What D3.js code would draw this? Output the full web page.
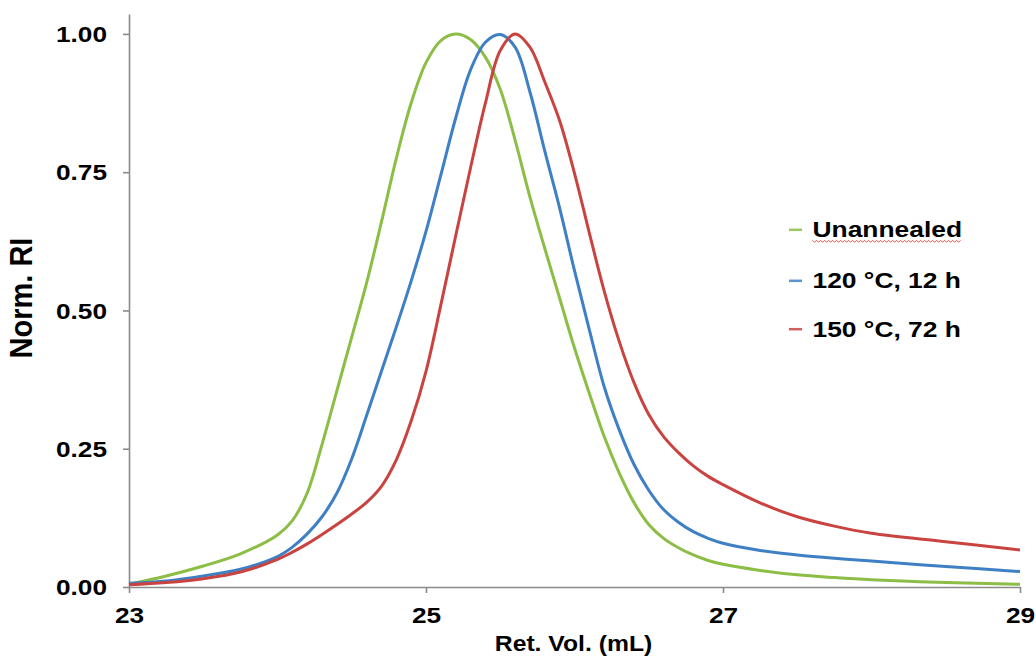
<!DOCTYPE html>
<html>
<head>
<meta charset="utf-8">
<script src="https://cdn.jsdelivr.net/npm/d3@7"></script>
<style>
  html, body { margin: 0; padding: 0; background: #fff; }
  svg { display: block; }
  text { font-family: "Liberation Sans", Arial, sans-serif; font-weight: bold; fill: #000; }
</style>
</head>
<body>
<svg id="chart" width="1036" height="659"></svg>
<script>
// Retention volume (mL) sampling grid shared by all traces
const retVol = [23.0, 23.25, 23.5, 23.75, 24.0, 24.1, 24.2, 24.3, 24.4, 24.5, 24.6, 24.7, 24.8, 24.9,
  25.0, 25.1, 25.2, 25.3, 25.4, 25.5, 25.6, 25.7, 25.8, 25.9, 26.0, 26.1, 26.2, 26.3, 26.4, 26.5,
  26.6, 26.7, 26.8, 26.9, 27.0, 27.25, 27.5, 27.75, 28.0, 28.5, 29.0];

// Normalised RI response for each sample
const unannealed = [0.005, 0.02, 0.038, 0.06, 0.094, 0.12, 0.17, 0.258, 0.355, 0.452, 0.55, 0.66, 0.775, 0.875,
  0.948, 0.988, 1.0, 0.99, 0.958, 0.9, 0.808, 0.705, 0.612, 0.522, 0.432, 0.35, 0.272, 0.207, 0.153, 0.113,
  0.088, 0.071, 0.058, 0.048, 0.041, 0.03, 0.022, 0.017, 0.013, 0.008, 0.005];

const annealed120 = [0.007, 0.011, 0.02, 0.032, 0.055, 0.072, 0.096, 0.127, 0.17, 0.232, 0.31, 0.39, 0.47, 0.553,
  0.643, 0.745, 0.848, 0.935, 0.985, 0.999, 0.976, 0.895, 0.788, 0.685, 0.572, 0.465, 0.362, 0.285, 0.222, 0.175,
  0.14, 0.117, 0.1, 0.088, 0.079, 0.066, 0.058, 0.052, 0.047, 0.037, 0.028];

const annealed150 = [0.004, 0.008, 0.015, 0.027, 0.05, 0.063, 0.078, 0.095, 0.113, 0.132, 0.153, 0.182, 0.23, 0.3,
  0.39, 0.51, 0.635, 0.758, 0.875, 0.97, 1.0, 0.976, 0.913, 0.843, 0.748, 0.64, 0.535, 0.445, 0.37, 0.312,
  0.272, 0.243, 0.219, 0.2, 0.185, 0.152, 0.127, 0.11, 0.097, 0.082, 0.067];

const seriesNames = ["Unannealed", "120 °C, 12 h", "150 °C, 72 h"];
const seriesValues = [unannealed, annealed120, annealed150];
const seriesColors = ["#8cbd45", "#3f7fc4", "#c94441"];

const xTicks = [23, 25, 27, 29];
const yTicks = [0, 0.25, 0.5, 0.75, 1.0];

const svg = d3.select("#chart");
const tickStretch = 1.22;    // wide-set lettering for tick labels
const legendStretch = 1.2;
const titleStretch = 1.15;

const x = d3.scaleLinear().domain([23, 29]).range([129, 1020]);
const y = d3.scaleLinear().domain([0, 1.036]).range([587, 14]);

// Axes
const axisColor = "#8a8a8a";

const gx = svg.append("g")
  .attr("transform", `translate(0,${y(0)})`)
  .call(d3.axisBottom(x).tickValues(xTicks).tickFormat(d3.format("d")).tickSize(6).tickSizeOuter(0));

const gy = svg.append("g")
  .attr("transform", `translate(${x(23)},0)`)
  .call(d3.axisLeft(y).tickValues(yTicks).tickFormat(d3.format(".2f")).tickSize(6).tickSizeOuter(0));

[gx, gy].forEach(g => {
  g.select(".domain").attr("stroke", axisColor).attr("stroke-width", 1.6);
  g.selectAll(".tick line").attr("stroke", axisColor).attr("stroke-width", 1.6);
  g.selectAll(".tick text")
    .attr("fill", "#000")
    .style("font-size", "21.5px")
    .style("font-family", "'Liberation Sans', Arial, sans-serif")
    .style("font-weight", "bold");
});

gx.selectAll(".tick text")
  .attr("y", 21)
  .attr("transform", `scale(${tickStretch},1)`);

gy.selectAll(".tick text")
  .attr("x", -22 / tickStretch)
  .attr("dy", "0.36em")
  .attr("transform", `scale(${tickStretch},1)`);

// Traces
const line = d3.line()
  .x((d, i) => x(retVol[i]))
  .y(d => y(d))
  .curve(d3.curveCatmullRom.alpha(0.5));

seriesValues.forEach((vals, k) => {
  svg.append("path")
    .datum(vals)
    .attr("fill", "none")
    .attr("stroke", seriesColors[k])
    .attr("stroke-width", 3)
    .attr("stroke-linejoin", "round")
    .attr("d", line);
});

// Axis titles
svg.append("text")
  .attr("transform", `translate(573.5,651) scale(${titleStretch},1)`)
  .attr("text-anchor", "middle")
  .style("font-size", "21.5px")
  .text("Ret. Vol. (mL)");

svg.append("text")
  .attr("transform", `translate(32,298) scale(1.1,1) rotate(-90)`)
  .attr("text-anchor", "middle")
  .style("font-size", "29px")
  .text("Norm. RI");

// Legend
const legendBaselines = [237.3, 288.3, 336.7];
const legend = svg.append("g");
seriesNames.forEach((name, k) => {
  const base = legendBaselines[k];
  legend.append("line")
    .attr("x1", 789).attr("x2", 802)
    .attr("y1", base - 7.5).attr("y2", base - 7.5)
    .attr("stroke", seriesColors[k])
    .attr("stroke-opacity", 0.85)
    .attr("stroke-width", 2.5);
  const t = legend.append("text")
    .attr("transform", `translate(812.5,${base}) scale(${legendStretch},1)`)
    .style("font-size", "22px")
    .text(name);
  if (k === 0) {
    // red wavy underline beneath the first entry
    const w = t.node().getComputedTextLength() * legendStretch;
    const pts = [];
    for (let px = 0, i = 0; px <= w; px += 2, i++) {
      pts.push([812.5 + px, base + 4 + (i % 2 === 0 ? -1 : 1)]);
    }
    legend.append("path")
      .attr("d", d3.line()(pts))
      .attr("fill", "none")
      .attr("stroke", "#e8504a")
      .attr("stroke-width", 1);
  }
});
</script>
</body>
</html>
